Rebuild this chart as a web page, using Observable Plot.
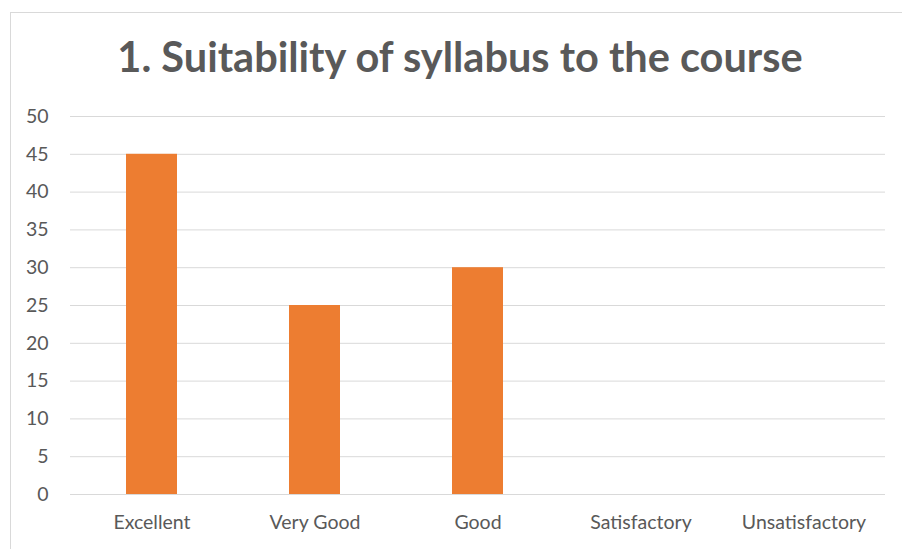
<!DOCTYPE html>
<html>
<head>
<meta charset="utf-8">
<script src="https://cdn.jsdelivr.net/npm/d3@7"></script>
<script src="https://cdn.jsdelivr.net/npm/@observablehq/plot@0.6"></script>
<style>
  html, body { margin: 0; padding: 0; background: #fff; overflow: hidden; width: 902px; height: 549px; }
  #frame { position: absolute; left: 10px; top: 12px; width: 1000px; height: 1000px; border: 1px solid #d9d9d9; box-sizing: border-box; }
  #wrap { position: absolute; left: 0; top: 0; width: 902px; height: 549px; }
  #title { height: 100px; line-height: 1; font-family: Lato, "Open Sans", sans-serif; font-weight: bold; font-size: 41.5px; color: #595959; text-align: center; box-sizing: border-box; padding-top: 36px; padding-left: 18px; margin: 0; white-space: nowrap; }
  svg { display: block; }
</style>
</head>
<body>
<div id="frame"></div>
<div id="wrap">
  <div id="title">1. Suitability of syllabus to the course</div>
  <div id="chart"></div>
</div>
<script>
const categories = ["Excellent", "Very Good", "Good", "Satisfactory", "Unsatisfactory"];
const values = [45, 25, 30, 0, 0];
const yTicks = [0, 5, 10, 15, 20, 25, 30, 35, 40, 45, 50];

const data = categories.map((c, i) => ({category: c, value: values[i]}));

const chart = Plot.plot({
  width: 902,
  height: 449,
  marginTop: 16,
  marginBottom: 55,
  marginLeft: 70,
  marginRight: 17,
  style: { fontFamily: "Lato, 'Open Sans', sans-serif", fontSize: "19.5px", color: "#595959", background: "transparent" },
  x: { domain: categories, paddingInner: 0.69, paddingOuter: 0.345, label: null },
  y: { domain: [0, 50], label: null },
  marks: [
    Plot.ruleY(yTicks, { stroke: "#d9d9d9", strokeWidth: 1 }),
    Plot.barY(data, { x: "category", y: "value", fill: "#ED7D31" }),
    Plot.axisY({ ticks: yTicks, tickSize: 0, tickPadding: 22, label: null, fill: "#595959", fontSize: 19.5 }),
    Plot.axisX({ tickSize: 0, tickPadding: 21, label: null, fill: "#595959", fontSize: 19.5 })
  ]
});
document.getElementById("chart").appendChild(chart);
</script>
</body>
</html>
